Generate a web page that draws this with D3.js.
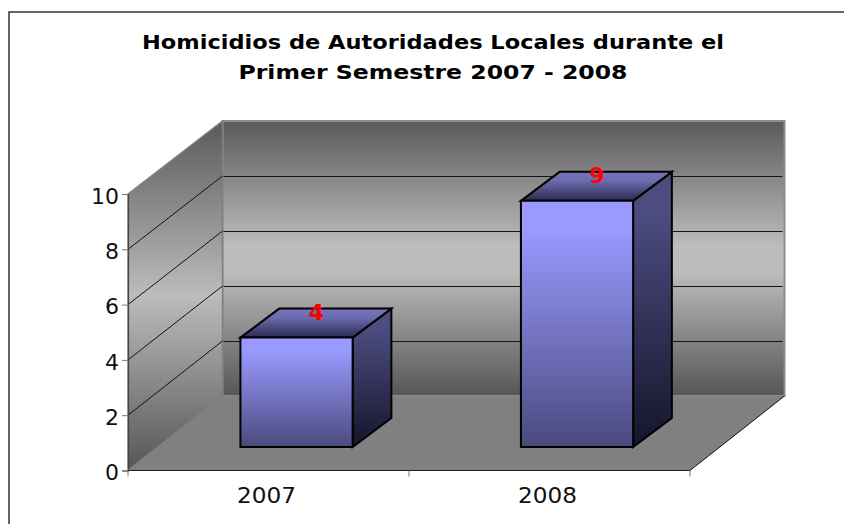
<!DOCTYPE html>
<html><head><meta charset="utf-8">
<script src="https://cdn.jsdelivr.net/npm/d3@7"></script>
<style>html,body{margin:0;padding:0;background:#fff}svg{display:block}text{font-family:"DejaVu Sans",sans-serif}</style>
</head><body><svg id="c" width="844" height="524"></svg>
<script>
const categories=["2007","2008"];
const values=[4,9];
const valueTicks=[0,2,4,6,8,10];
const titleLines=["Homicidios de Autoridades Locales durante el","Primer Semestre 2007 - 2008"];

const svg=d3.select("#c");
const defs=svg.append("defs");
function grad(id,stops){
  const g=defs.append("linearGradient").attr("id",id).attr("x1",0).attr("y1",0).attr("x2",0).attr("y2",1);
  stops.forEach(s=>g.append("stop").attr("offset",s[0]).attr("stop-color",s[1]));
}
grad("wall",[[0,"#5a5a5a"],[0.45,"#bcbcbc"],[0.55,"#bcbcbc"],[1,"#565656"]]);
grad("sideWall",[[0,"#5a5a5a"],[0.5,"#bcbcbc"],[1,"#565656"]]);
grad("front",[[0,"#9999ff"],[0.12,"#9999ff"],[1,"#4a4a7e"]]);
grad("side",[[0,"#4c4c80"],[0.15,"#4c4c80"],[1,"#14142a"]]);
grad("top",[[0,"#7474bc"],[0.3,"#6c6cb0"],[1,"#2a2a50"]]);

const xFront=d3.scaleLinear().domain([0,categories.length]).range([128,690]);
const band=d3.scaleBand().domain(categories).range([126.5,687.5]).paddingInner(0.6).paddingOuter(0.3);
const yFront=d3.scaleLinear().domain([0,10]).range([470.5,194]);
const yBack=d3.scaleLinear().domain([0,10]).range([396,121]);
const yBar=d3.scaleLinear().domain([0,10]).range([447,173.5]);
const depthX=94.5;
const barDepthX=[0.315,0.725];
const barDepthY=29;

const line=d3.line();
const poly=(pts,fill,stroke,sw)=>svg.append("path").attr("d",line(pts)+"Z").attr("fill",fill).attr("stroke",stroke||"none").attr("stroke-width",sw||0).attr("stroke-linejoin","miter");

// frame
svg.append("path").attr("d","M9,524V12H844").attr("fill","none").attr("stroke","#333").attr("stroke-width",1.5);

// title
const titleWidths=[582,389];
svg.append("g").selectAll("text").data(titleLines).join("text")
  .attr("x",433).attr("y",(d,i)=>48.5+i*30).attr("text-anchor","middle")
  .attr("font-size",20).attr("font-weight","bold").attr("fill","#000")
  .attr("textLength",(d,i)=>titleWidths[i]).attr("lengthAdjust","spacingAndGlyphs").text(d=>d);

const x0=xFront(0),x1=xFront(2),bx0=x0+depthX,bx1=x1+depthX;
// back wall
poly([[bx0,yBack(10)],[bx1,yBack(10)],[bx1,yBack(0)],[bx0,yBack(0)]],"url(#wall)","#8c8c8c",2);
// side wall
poly([[x0,yFront(10)],[bx0,yBack(10)],[bx0,yBack(0)],[x0,yFront(0)]],"url(#sideWall)","#808080",1.5);
// floor
poly([[x0,yFront(0)],[x1,yFront(0)],[bx1,yBack(0)],[bx0,yBack(0)]],"#808080");
svg.append("path").attr("d",line([[x1,yFront(0)],[bx1,yBack(0)]])).attr("stroke","#111").attr("stroke-width",1).attr("fill","none");

// gridlines
valueTicks.filter(v=>v>0&&v<10).forEach(v=>{
  const gy0=Math.round(yBack(v))+0.5;
  svg.append("line").attr("x1",bx0+1).attr("x2",bx1-2).attr("y1",gy0).attr("y2",gy0).attr("stroke","#141414").attr("stroke-width",1);
});
valueTicks.filter(v=>v>0&&v<10).forEach(v=>{
  svg.append("line").attr("x1",x0).attr("x2",bx0).attr("y1",yFront(v)).attr("y2",yBack(v)).attr("stroke","#111").attr("stroke-width",1);
});

// bars
categories.forEach((c,i)=>{
  const v=values[i];
  const xl=band(c)+barDepthX[0]*depthX, xr=xl+band.bandwidth();
  const dx=(barDepthX[1]-barDepthX[0])*depthX;
  const yb=yBar(0), yt=yBar(v);
  const sw=2;
  poly([[xr,yt],[xr+dx,yt-barDepthY],[xr+dx,yb-barDepthY],[xr,yb]],"url(#side)","#000",sw);
  poly([[xl,yt],[xl+dx,yt-barDepthY],[xr+dx,yt-barDepthY],[xr,yt]],"url(#top)","#000",sw);
  poly([[xl,yt],[xr,yt],[xr,yb],[xl,yb]],"url(#front)","#000",sw);
  svg.append("text").attr("x",(xl+xr)/2+20).attr("y",yt-18).attr("text-anchor","middle")
    .attr("font-size",22).attr("font-weight","bold").attr("fill","#ff0000").text(v);
});

// axes
const yAxis=d3.axisLeft(yFront).tickValues(valueTicks).tickSize(6).tickPadding(3);
const gy=svg.append("g").attr("transform",`translate(${x0},0)`).call(yAxis);
gy.select(".domain").attr("stroke","#444").attr("stroke-width",1.2);
gy.selectAll(".tick line").attr("stroke","#777");
gy.selectAll("text").attr("font-size",22).attr("font-family","DejaVu Sans").attr("fill","#111").attr("dy","0.42em");

const xAxisScale=d3.scaleBand().domain(categories).range([x0,x1]);
const xAxis=d3.axisBottom(xAxisScale).tickSize(0).tickPadding(17);
const gx=svg.append("g").attr("transform",`translate(-2,${yFront(0)})`).call(xAxis);
gx.select(".domain").remove();
svg.append("line").attr("x1",x0).attr("x2",x1).attr("y1",yFront(0)).attr("y2",yFront(0)).attr("stroke","#222").attr("stroke-width",1.2);
gx.selectAll("text").attr("font-size",22).attr("font-family","DejaVu Sans").attr("fill","#111")
  .attr("textLength",59).attr("lengthAdjust","spacingAndGlyphs");
[0,1,2].forEach(k=>svg.append("line").attr("x1",xFront(k)).attr("x2",xFront(k)).attr("y1",yFront(0)).attr("y2",yFront(0)+6).attr("stroke","#777"));
</script></body></html>
